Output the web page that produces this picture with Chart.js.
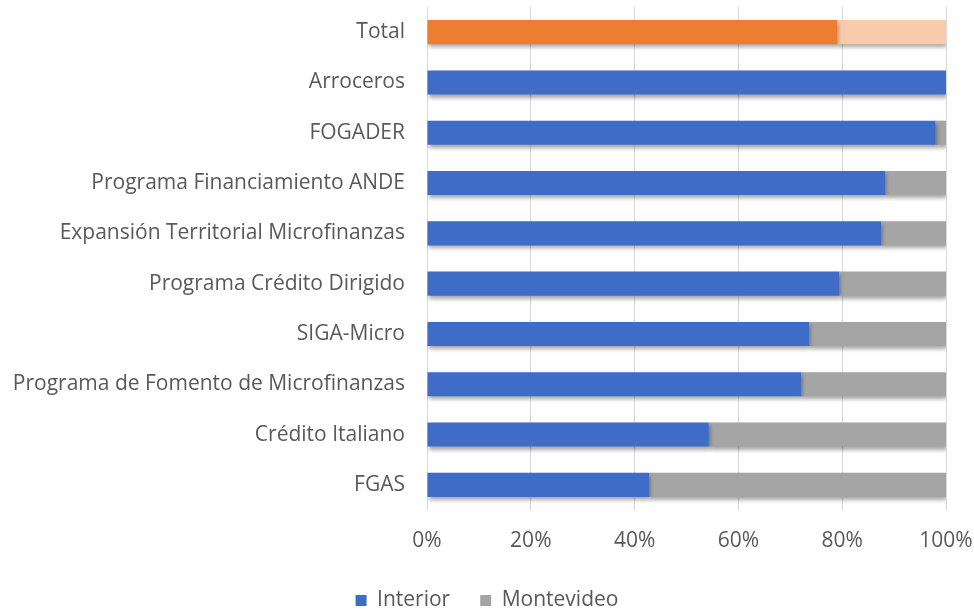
<!DOCTYPE html>
<html>
<head>
<meta charset="utf-8">
<script src="https://cdn.jsdelivr.net/npm/chart.js@4/dist/chart.umd.min.js"></script>
<style>
  html, body { margin: 0; padding: 0; background: #fff; }
  #wrap { width: 974px; height: 614px; }
</style>
</head>
<body>
<div id="wrap"><canvas id="chart"></canvas></div>
<script>
const categories = [
  'Total',
  'Arroceros',
  'FOGADER',
  'Programa Financiamiento ANDE',
  'Expansión Territorial Microfinanzas',
  'Programa Crédito Dirigido',
  'SIGA-Micro',
  'Programa de Fomento de Microfinanzas',
  'Crédito Italiano',
  'FGAS',
];
const interior = [79.0, 100, 98.0, 88.3, 87.5, 79.4, 73.6, 72.1, 54.3, 42.8];
const montevideo = [21.0, 0, 2.0, 11.7, 12.5, 20.6, 26.4, 27.9, 45.7, 57.2];
const xTicks = [0, 20, 40, 60, 80, 100];

const BLUE = '#3E6CC6';
const GRAY = '#A5A5A5';
const ORANGE = '#ED7D31';
const PEACH = '#F8CBAD';
const TEXT = '#595959';
const FONT = 'Open Sans';

// sombra tipo Excel bajo las barras
const shadowPlugin = {
  id: 'barShadow',
  beforeDatasetsDraw(chart) {
    const ctx = chart.ctx;
    ctx.save();
    ctx.shadowColor = 'rgba(0,0,0,0.35)';
    ctx.shadowBlur = 4;
    ctx.shadowOffsetX = 1;
    ctx.shadowOffsetY = 3;
  },
  afterDatasetsDraw(chart) {
    chart.ctx.restore();
  },
};

const colorFor = (main, total) => (ctx) =>
  ctx.type === 'data' && ctx.dataIndex === 0 ? total : main;

new Chart(document.getElementById('chart').getContext('2d'), {
  type: 'bar',
  data: {
    labels: categories,
    datasets: [
      {
        label: 'Interior',
        data: interior,
        backgroundColor: colorFor(BLUE, ORANGE),
        barPercentage: 0.48,
        categoryPercentage: 1,
      },
      {
        label: 'Montevideo',
        data: montevideo,
        backgroundColor: colorFor(GRAY, PEACH),
        barPercentage: 0.48,
        categoryPercentage: 1,
      },
    ],
  },
  options: {
    indexAxis: 'y',
    responsive: true,
    maintainAspectRatio: false,
    animation: false,
    layout: { padding: { top: 7, right: 0, left: 0, bottom: -7 } },
    scales: {
      x: {
        stacked: true,
        min: 0,
        max: 100,
        afterBuildTicks: (axis) => {
          axis.ticks = xTicks.map((v) => ({ value: v }));
        },
        afterFit: (axis) => {
          axis.height = 50;
          axis.paddingRight = 28;
          axis.paddingLeft = 0;
        },
        ticks: {
          color: TEXT,
          font: { family: FONT, size: 21 },
          padding: 18,
          maxRotation: 0,
          callback: (v) => v + '%',
        },
        grid: { color: '#D9D9D9', drawTicks: false },
        border: { display: false },
      },
      y: {
        stacked: true,
        afterFit: (axis) => {
          axis.width = 427;
          axis.paddingTop = 0;
          axis.paddingBottom = 0;
        },
        ticks: {
          color: TEXT,
          font: { family: FONT, size: 21 },
          padding: 22,
        },
        grid: { display: false, drawTicks: false },
        border: { display: false },
      },
    },
    plugins: {
      legend: {
        position: 'bottom',
        labels: {
          color: TEXT,
          font: { family: FONT, size: 21 },
          boxWidth: 11,
          boxHeight: 11,
          padding: 30,
          generateLabels: () => [
            { text: 'Interior', fillStyle: BLUE, strokeStyle: BLUE, lineWidth: 0, fontColor: TEXT },
            { text: 'Montevideo', fillStyle: GRAY, strokeStyle: GRAY, lineWidth: 0, fontColor: TEXT },
          ],
        },
      },
      tooltip: { enabled: false },
    },
  },
  plugins: [shadowPlugin],
});
</script>
</body>
</html>
